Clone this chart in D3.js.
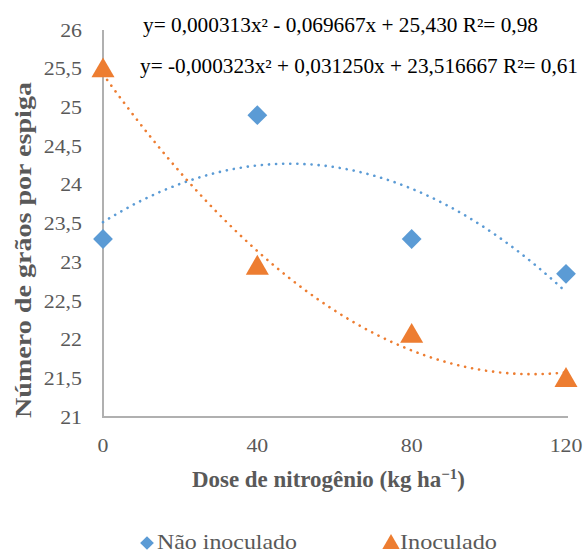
<!DOCTYPE html>
<html>
<head>
<meta charset="utf-8">
<script src="https://cdn.jsdelivr.net/npm/d3@7"></script>
<style>
  body { margin: 0; background: #fff; }
</style>
</head>
<body>
<svg id="chart" width="588" height="554"></svg>
<script>
const doses = [0, 40, 80, 120]
const naoInoculado = [23.3, 24.9, 23.3, 22.85]
const inoculado = [25.5, 22.95, 22.07, 21.5]
const yTicks = [21, 21.5, 22, 22.5, 23, 23.5, 24, 24.5, 25, 25.5, 26]
// trendline coefficients [a, b, c] for a*x^2 + b*x + c
const coefNao = [-0.000323, 0.031250, 23.516667]
const coefInoc = [0.000313, -0.069667, 25.430]
const eqNao = 'y= -0,000323x² + 0,031250x + 23,516667 R²= 0,61'
const eqInoc = 'y= 0,000313x² - 0,069667x + 25,430 R²= 0,98'

const blue = '#5B9BD5'
const orange = '#ED7D31'
const gray = '#595959'
const FONT = 'Liberation Serif'

const svg = d3.select('#chart')

const x = d3.scaleLinear().domain([0, 120]).range([103, 566])
const y = d3.scaleLinear().domain([21, 26]).range([417, 30])

// axes
svg.append('line')
  .attr('x1', 102).attr('x2', 568)
  .attr('y1', y(21)).attr('y2', y(21))
  .attr('stroke', '#b0b0b0').attr('stroke-width', 2)
svg.append('line')
  .attr('x1', x(0)).attr('x2', x(0))
  .attr('y1', y(26)).attr('y2', y(21))
  .attr('stroke', '#b0b0b0').attr('stroke-width', 2)

svg.selectAll('text.ytick')
  .data(yTicks)
  .enter()
  .append('text')
  .attr('class', 'ytick')
  .attr('transform', d => `translate(82,${y(d)}) scale(1.15,1)`)
  .attr('dy', '0.35em')
  .attr('text-anchor', 'end')
  .attr('font-family', FONT)
  .attr('font-size', 19)
  .attr('fill', gray)
  .text(d => String(d).replace('.', ','))

svg.selectAll('text.xtick')
  .data(doses)
  .enter()
  .append('text')
  .attr('class', 'xtick')
  .attr('transform', d => `translate(${x(d)},452) scale(1.15,1)`)
  .attr('text-anchor', 'middle')
  .attr('font-family', FONT)
  .attr('font-size', 19)
  .attr('fill', gray)
  .text(d => d)

// axis titles
const xt = svg.append('text')
  .attr('x', 192)
  .attr('y', 487)
  .attr('font-family', FONT)
  .attr('font-size', 23)
  .attr('font-weight', 'bold')
  .attr('fill', gray)
  .attr('textLength', 273)
  .attr('lengthAdjust', 'spacingAndGlyphs')
xt.append('tspan').text('Dose de nitrogênio (kg ha')
xt.append('tspan').attr('dy', -8).attr('font-size', 15).text('−1')
xt.append('tspan').attr('dy', 8).text(')')

svg.append('text')
  .attr('transform', 'translate(31,250) rotate(-90)')
  .attr('text-anchor', 'middle')
  .attr('font-family', FONT)
  .attr('font-size', 23)
  .attr('font-weight', 'bold')
  .attr('fill', gray)
  .attr('textLength', 336)
  .attr('lengthAdjust', 'spacingAndGlyphs')
  .text('Número de grãos por espiga')

// trendlines
const xs = d3.range(0, 120.5, 1)
const poly = c => v => c[0] * v * v + c[1] * v + c[2]
const line = d3.line().x(d => x(d[0])).y(d => y(d[1])).curve(d3.curveMonotoneX)

;[[coefNao, blue], [coefInoc, orange]].forEach(([c, col]) => {
  const f = poly(c)
  svg.append('path')
    .attr('d', line(xs.map(v => [v, f(v)])))
    .attr('fill', 'none')
    .attr('stroke', col)
    .attr('stroke-width', 2.6)
    .attr('stroke-linecap', 'round')
    .attr('stroke-dasharray', '0.1 7')
})

// markers
const diamond = d3.symbol().type(d3.symbolDiamond2).size(250)
const triangle = d3.symbol().type(d3.symbolTriangle).size(230)

svg.selectAll('path.nao')
  .data(naoInoculado)
  .enter()
  .append('path')
  .attr('class', 'nao')
  .attr('d', diamond)
  .attr('transform', (d, i) => `translate(${x(doses[i])},${y(d)})`)
  .attr('fill', blue)

svg.selectAll('path.inoc')
  .data(inoculado)
  .enter()
  .append('path')
  .attr('class', 'inoc')
  .attr('d', triangle)
  .attr('transform', (d, i) => `translate(${x(doses[i])},${y(d) + 2})`)
  .attr('fill', orange)

// equations
svg.append('text')
  .attr('x', 143).attr('y', 32)
  .attr('font-family', FONT)
  .attr('font-size', 20)
  .attr('fill', '#000')
  .attr('textLength', 395)
  .attr('lengthAdjust', 'spacingAndGlyphs')
  .text(eqInoc)
svg.append('text')
  .attr('x', 140).attr('y', 73)
  .attr('font-family', FONT)
  .attr('font-size', 20)
  .attr('fill', '#000')
  .attr('textLength', 438)
  .attr('lengthAdjust', 'spacingAndGlyphs')
  .text(eqNao)

// legend
svg.append('path')
  .attr('d', d3.symbol().type(d3.symbolDiamond2).size(120))
  .attr('transform', 'translate(147,543)')
  .attr('fill', blue)
svg.append('text')
  .attr('x', 157).attr('y', 549)
  .attr('font-family', FONT)
  .attr('font-size', 21)
  .attr('fill', gray)
  .attr('textLength', 140)
  .attr('lengthAdjust', 'spacingAndGlyphs')
  .text('Não inoculado')
svg.append('path')
  .attr('d', d3.symbol().type(d3.symbolTriangle).size(130))
  .attr('transform', 'translate(391,544)')
  .attr('fill', orange)
svg.append('text')
  .attr('x', 400).attr('y', 549)
  .attr('font-family', FONT)
  .attr('font-size', 21)
  .attr('fill', gray)
  .attr('textLength', 97)
  .attr('lengthAdjust', 'spacingAndGlyphs')
  .text('Inoculado')
</script>
</body>
</html>
